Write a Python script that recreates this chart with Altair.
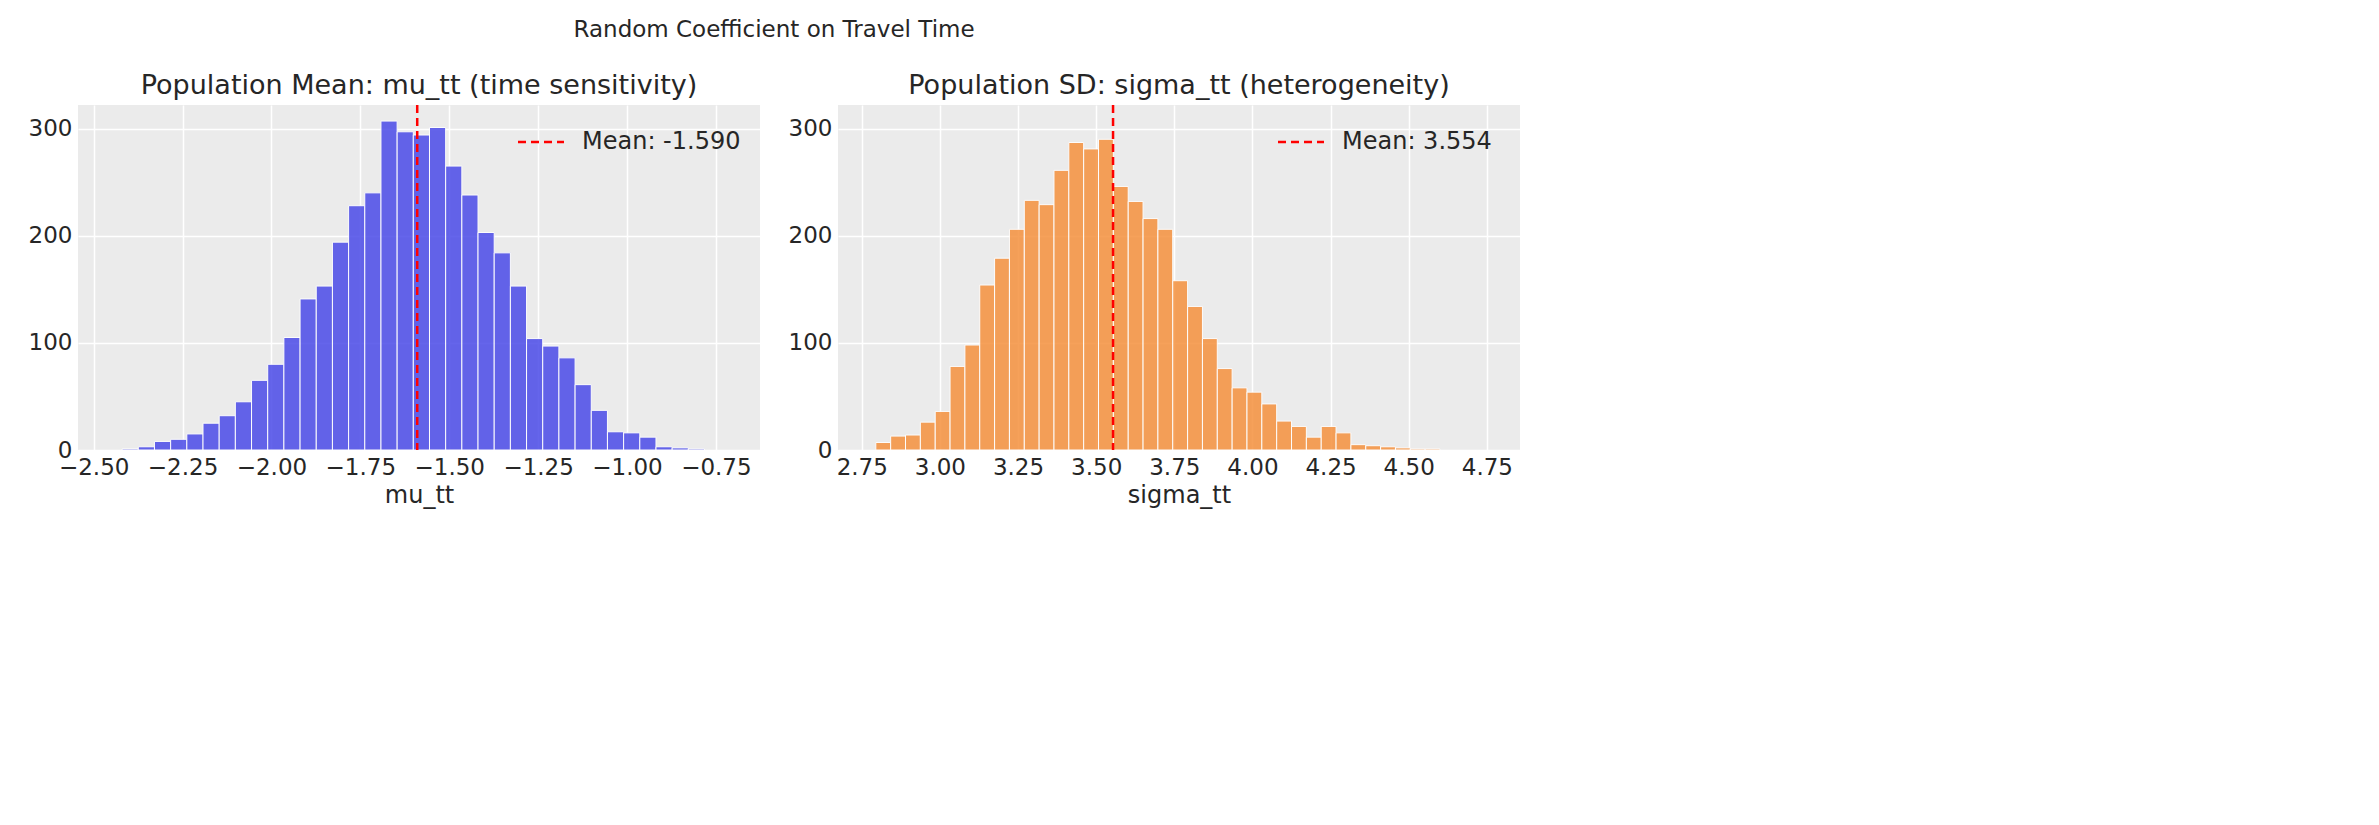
import altair as alt
import pandas as pd

# histogram counts
mu_start, mu_width = -2.42, 0.0455
mu_counts = [1, 3, 8, 10, 15, 25, 32, 45, 65, 80, 105, 141, 153, 194, 228, 240, 307, 297,
             294, 301, 265, 238, 203, 184, 153, 104, 97, 86, 61, 37, 17, 16, 12, 3, 2, 1]
mu_mean = -1.590

sg_start, sg_width = 2.795, 0.0475
sg_counts = [7, 13, 14, 26, 36, 78, 98, 154, 179, 206, 233, 229, 261, 287, 281, 290, 246,
             232, 216, 206, 158, 134, 104, 76, 58, 54, 43, 27, 22, 12, 22, 16, 5, 4, 3, 2, 1, 1]
sg_mean = 3.554

FONT = "DejaVu Sans"


def panel(start, width, counts, mean, color, title, xlabel, xdomain, xticks, legend_text):
    df = pd.DataFrame({
        "x": [start + i * width for i in range(len(counts))],
        "x2": [start + (i + 1) * width for i in range(len(counts))],
        "count": counts,
    })
    xs = alt.Scale(domain=xdomain, nice=False, zero=False)
    bars = alt.Chart(df).mark_bar(color=color, opacity=0.85, stroke="white", strokeWidth=1,
                                  orient="vertical").encode(
        x=alt.X("x:Q", scale=xs, title=xlabel,
                axis=alt.Axis(values=xticks, format=".2f")),
        x2="x2:Q",
        y=alt.Y("count:Q", title=None, scale=alt.Scale(domain=[0, 322], nice=False),
                axis=alt.Axis(values=[0, 100, 200, 300])),
        y2=alt.datum(0),
    )
    rule = alt.Chart(pd.DataFrame({"m": [mean]})).mark_rule(
        color="red", strokeDash=[8, 5], strokeWidth=2.5).encode(x=alt.X("m:Q", scale=xs))
    leg = alt.Chart(pd.DataFrame({"t": [legend_text]})).mark_rule(
        color="red", strokeDash=[8, 5], strokeWidth=2.5).encode(
        x=alt.value(440), x2=alt.value(486), y=alt.value(37))
    txt = alt.Chart(pd.DataFrame({"t": [legend_text]})).mark_text(
        align="left", baseline="middle", fontSize=24, font=FONT, color="#262626").encode(
        x=alt.value(504), y=alt.value(37), text="t:N")
    return alt.layer(bars, rule, leg, txt).properties(
        width=682, height=345,
        title=alt.TitleParams(title, fontSize=27, font=FONT, fontWeight="normal", color="#262626"))


left = panel(mu_start, mu_width, mu_counts, mu_mean, "#4b4be8",
             "Population Mean: mu_tt (time sensitivity)", "mu_tt", [-2.53, -0.64],
             [-2.5, -2.25, -2.0, -1.75, -1.5, -1.25, -1.0, -0.75], "Mean: -1.590")
right = panel(sg_start, sg_width, sg_counts, sg_mean, "#f5913e",
              "Population SD: sigma_tt (heterogeneity)", "sigma_tt", [2.69, 4.84],
              [2.75, 3.0, 3.25, 3.5, 3.75, 4.0, 4.25, 4.5, 4.75], "Mean: 3.554")

chart = alt.hconcat(left, right, spacing=28).properties(
    title=alt.TitleParams("Random Coefficient on Travel Time", anchor="middle", fontSize=23,
                          font=FONT, fontWeight="normal", color="#262626", offset=30),
    background="white",
    padding={"left": 20, "top": 10, "right": 10, "bottom": 10},
).configure_view(fill="#ebebeb", stroke=None).configure_axis(
    grid=True, gridColor="white", gridWidth=1.5, domain=False, ticks=False,
    labelFont=FONT, labelFontSize=23, labelColor="#262626", labelPadding=6,
    titleFont=FONT, titleFontSize=24, titleColor="#262626", titleFontWeight="normal",
)

chart.save("out.html", embed_options={"renderer": "svg", "actions": False})
